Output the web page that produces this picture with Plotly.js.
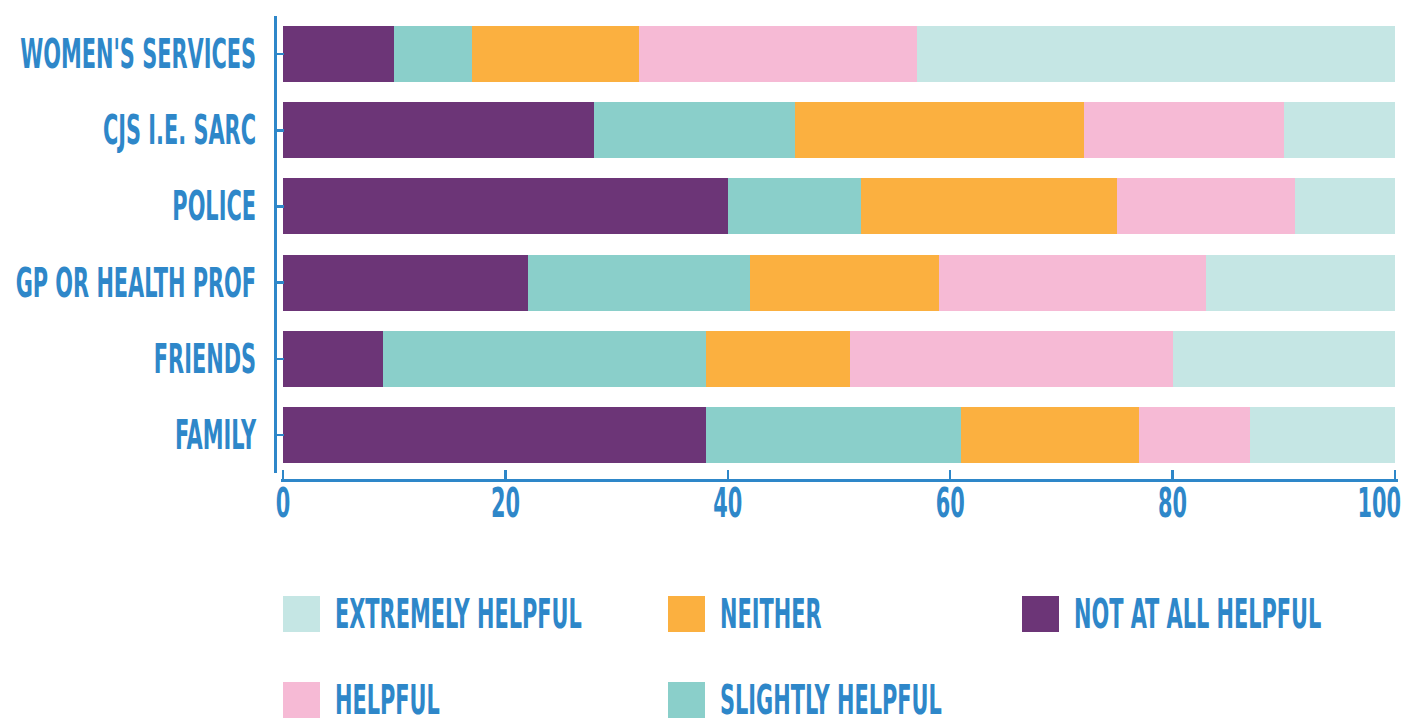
<!DOCTYPE html>
<html>
<head>
<meta charset="utf-8">
<script src="https://cdn.plot.ly/plotly-3.0.1.min.js"></script>
<style>
html,body{margin:0;padding:0;background:#fff;}
#chart{width:1408px;height:718px;}
</style>
</head>
<body>
<div id="chart"></div>
<script>
// Categories (bottom to top)
const categories = ["FAMILY", "FRIENDS", "GP OR HEALTH PROF", "POLICE", "CJS I.E. SARC", "WOMEN'S SERVICES"];
// Series values (%), same order as categories
const notAtAllHelpful  = [38, 9, 22, 40, 28, 10];
const slightlyHelpful  = [23, 29, 20, 12, 18, 7];
const neither          = [16, 13, 17, 23, 26, 15];
const helpful          = [10, 29, 24, 16, 18, 25];
const extremelyHelpful = [13, 20, 17, 9, 10, 43];
const seriesNames  = ["NOT AT ALL HELPFUL", "SLIGHTLY HELPFUL", "NEITHER", "HELPFUL", "EXTREMELY HELPFUL"];
const seriesValues = [notAtAllHelpful, slightlyHelpful, neither, helpful, extremelyHelpful];
const seriesColors = ["#6c3577", "#8acfca", "#fbb040", "#f6bad5", "#c5e6e4"];
const tickVals = [0, 20, 40, 60, 80, 100];
// Legend order (alphabetical, column-major in the original)
const legendOrder = ["EXTREMELY HELPFUL", "NEITHER", "NOT AT ALL HELPFUL", "HELPFUL", "SLIGHTLY HELPFUL"];

const W = 1408, H = 718;
const FONT = "DejaVu Sans Condensed, DejaVu Sans, sans-serif";
const FS = 40;
const BLUE = "#2e87c9";
const SQUEEZE = 0.58;   // horizontal compression to mimic a tall condensed display face
const PAD = 2.5 / 11.12; // small range padding (in data units) so the end ticks are kept

const traces = seriesNames.map((n, i) => ({
  type: "bar", orientation: "h", name: n,
  y: categories, x: seriesValues[i],
  marker: {color: seriesColors[i], line: {width: 0}},
  showlegend: false, hoverinfo: "x+name"
}));

// custom legend (swatches + labels)
const legendX = [283, 668, 1022];
const legendY = [614, 700];
const shapes = [];
const annotations = [];
legendOrder.forEach((n, k) => {
  const col = k % 3, row = Math.floor(k / 3);
  const color = seriesColors[seriesNames.indexOf(n)];
  const x0 = legendX[col], yc = legendY[row];
  shapes.push({type: "rect", xref: "paper", yref: "paper",
    x0: x0 / W, x1: (x0 + 37) / W, y0: 1 - (yc + 18) / H, y1: 1 - (yc - 18) / H,
    fillcolor: color, line: {width: 0}});
  annotations.push({xref: "paper", yref: "paper", x: (x0 + 50) / W, y: 1 - yc / H,
    xanchor: "left", yanchor: "middle", align: "left", showarrow: false, text: n,
    font: {family: FONT, size: FS, color: BLUE, weight: 700}});
});

const layout = {
  width: W, height: H,
  margin: {l: 0, r: 0, t: 0, b: 0},
  paper_bgcolor: "#fff", plot_bgcolor: "#fff",
  barmode: "stack", bargap: 0.265,
  showlegend: false,
  xaxis: {
    domain: [280.5 / W, 1397.5 / W], range: [-PAD, 100 + PAD],
    anchor: "free", position: 1 - 480 / H,
    tickvals: tickVals, ticks: "inside", ticklen: 9, tickwidth: 2.5, tickcolor: BLUE,
    showline: true, linecolor: BLUE, linewidth: 3,
    showgrid: false, zeroline: false, ticklabeloverflow: "allow",
    tickfont: {family: FONT, size: FS, color: BLUE, weight: 700}
  },
  yaxis: {
    domain: [1 - 473 / H, 1 - 16 / H], range: [-0.5, 5.5],
    anchor: "free", position: 275 / W,
    ticks: "inside", ticklen: 7, tickwidth: 2.5, tickcolor: BLUE,
    showline: true, linecolor: BLUE, linewidth: 3,
    showgrid: false, zeroline: false, ticklabelstandoff: 10, ticklabeloverflow: "allow",
    tickfont: {family: FONT, size: FS, color: BLUE, weight: 700}
  },
  shapes: shapes, annotations: annotations
};

function fixText(gd) {
  gd.querySelectorAll('.xtick text, .ytick text, .annotation-text').forEach(t => {
    const x = parseFloat(t.getAttribute('x')) || 0;
    const y = parseFloat(t.getAttribute('y')) || 0;
    const tr = t.getAttribute('transform') || '';
    t.setAttribute('transform', tr + ` translate(${x},${y}) scale(${SQUEEZE},1) translate(${-x},${-y})`);
  });
  // place x tick labels: cap tops just under the axis line, keep the last one inside the page
  gd.querySelectorAll('.xtick text').forEach(t => {
    const r = t.getBoundingClientRect();
    const baseline = r.top + 0.928 * FS;
    const dy = 517 - baseline;
    const dx = r.right > 1401 ? 1401 - r.right : 0;
    const tr = t.getAttribute('transform') || '';
    t.setAttribute('transform', `translate(${dx},${dy}) ` + tr);
  });
}

Plotly.newPlot("chart", traces, layout, {displayModeBar: false, staticPlot: true})
  .then(gd => fixText(gd));
</script>
</body>
</html>
